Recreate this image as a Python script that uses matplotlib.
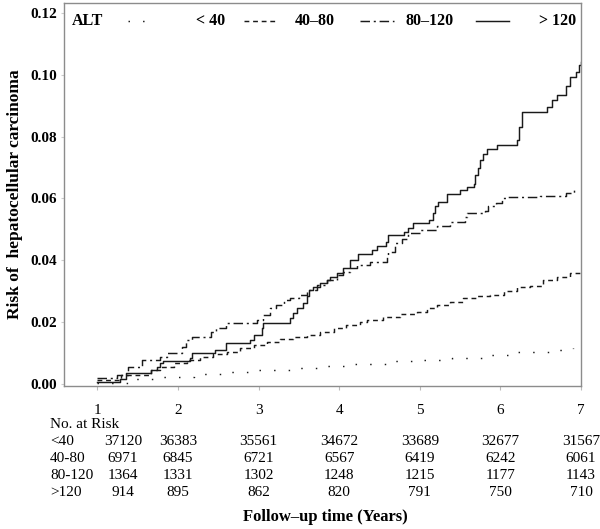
import numpy as np
import matplotlib.pyplot as plt
import matplotlib.transforms as mtransforms

plt.rcParams['font.family'] = ['Liberation Serif', 'DejaVu Serif']

# cumulative risk of HCC by ALT group (step curves)
t_lt40 = [1.00, 1.40, 1.80, 2.20, 2.60, 3.00, 3.40, 3.80, 4.20, 4.60, 5.00, 5.40, 5.80, 6.20, 6.60, 6.90]
r_lt40 = [0.0004, 0.0017, 0.0024, 0.0032, 0.0040, 0.0045, 0.0053, 0.0058, 0.0065, 0.0073, 0.0079, 0.0085,
          0.0094, 0.0104, 0.0110, 0.0115]

t_40_80 = [1.00, 1.30, 1.66, 1.78, 1.95, 2.11, 2.28, 2.44, 2.61, 2.77, 2.94, 3.10, 3.27, 3.43, 3.60, 3.76,
           3.93, 4.09, 4.26, 4.34, 4.55, 4.76, 4.96, 5.09, 5.21, 5.38, 5.54, 5.71, 5.87, 6.04, 6.20, 6.37,
           6.53, 6.70, 6.86, 7.00]
r_40_80 = [0.0013, 0.0029, 0.0045, 0.0056, 0.0067, 0.0078, 0.0088, 0.0096, 0.0105, 0.0115, 0.0126, 0.0137,
           0.0144, 0.0153, 0.0159, 0.0169, 0.0180, 0.0191, 0.0202, 0.0207, 0.0218, 0.0227, 0.0234, 0.0245,
           0.0256, 0.0266, 0.0277, 0.0283, 0.0288, 0.0302, 0.0315, 0.0317, 0.0337, 0.0347, 0.0358, 0.0363]

t_80_120 = [1.00, 1.25, 1.38, 1.55, 1.78, 1.86, 2.05, 2.10, 2.17, 2.41, 2.47, 2.60, 2.98, 3.06, 3.14, 3.22,
            3.31, 3.39, 3.50, 3.60, 3.72, 3.85, 3.97, 4.05, 4.14, 4.22, 4.38, 4.59, 4.61, 4.69, 4.78, 4.86,
            5.00, 5.21, 5.38, 5.56, 5.58, 5.81, 5.85, 5.95, 6.02, 6.08, 6.49, 6.82, 6.91, 6.93]
r_80_120 = [0.0018, 0.0030, 0.0056, 0.0078, 0.0088, 0.0099, 0.0120, 0.0142, 0.0153, 0.0169, 0.0180, 0.0196,
            0.0207, 0.0223, 0.0245, 0.0256, 0.0272, 0.0277, 0.0288, 0.0304, 0.0320, 0.0337, 0.0353, 0.0363,
            0.0374, 0.0385, 0.0396, 0.0412, 0.0428, 0.0455, 0.0470, 0.0488, 0.0498, 0.0511, 0.0523, 0.0541,
            0.0552, 0.0558, 0.0574, 0.0584, 0.0601, 0.0606, 0.0609, 0.0617, 0.0630, 0.0630]

t_gt120 = [1.00, 1.28, 1.35, 1.66, 1.74, 1.78, 1.82, 2.15, 2.17, 2.46, 2.60, 2.90, 2.94, 3.04, 3.06, 3.39,
           3.43, 3.48, 3.55, 3.60, 3.62, 3.68, 3.76, 3.85, 3.89, 3.97, 4.05, 4.14, 4.24, 4.41, 4.47, 4.58,
           4.61, 4.80, 4.86, 4.92, 5.11, 5.17, 5.19, 5.23, 5.34, 5.50, 5.58, 5.67, 5.69, 5.72, 5.75, 5.79,
           5.83, 5.96, 6.20, 6.23, 6.27, 6.58, 6.64, 6.70, 6.82, 6.86, 6.94, 6.98, 7.00]
r_gt120 = [0.0008, 0.0016, 0.0035, 0.0045, 0.0056, 0.0067, 0.0074, 0.0085, 0.0099, 0.0110, 0.0132, 0.0142,
           0.0159, 0.0180, 0.0196, 0.0213, 0.0229, 0.0245, 0.0262, 0.0283, 0.0304, 0.0313, 0.0326, 0.0337,
           0.0347, 0.0358, 0.0374, 0.0400, 0.0420, 0.0434, 0.0447, 0.0460, 0.0482, 0.0493, 0.0504, 0.0520,
           0.0531, 0.0552, 0.0574, 0.0590, 0.0615, 0.0626, 0.0638, 0.0647, 0.0676, 0.0700, 0.0725, 0.0745,
           0.0760, 0.0773, 0.0790, 0.0830, 0.0880, 0.0895, 0.0919, 0.0935, 0.0962, 0.0994, 0.1010, 0.1030,
           0.1040]

groups = ['< 40', '40\u201380', '80\u2013120', '> 120']

# numbers at risk
risk_rows = ['<40', '40-80', '80-120', '>120']
n_lt40 = [37120, 36383, 35561, 34672, 33689, 32677, 31567]
n_40_80 = [6971, 6845, 6721, 6567, 6419, 6242, 6061]
n_80_120 = [1364, 1331, 1302, 1248, 1215, 1177, 1143]
n_gt120 = [914, 895, 862, 820, 791, 750, 710]
col_x = [1.32, 2, 3, 4, 5, 6, 7]

styles = [(0, (1, 9)), (0, (3.3, 2.6)), (0, (6.5, 2.6, 1.4, 2.6)), '-']
lc = '#1a1a1a'

fig = plt.figure(figsize=(6, 5.29), dpi=100)
ax = fig.add_axes([64/600, 1-386/529, 517/600, 383/529])

series = [(t_lt40, r_lt40), (t_40_80, r_40_80), (t_80_120, r_80_120), (t_gt120, r_gt120)]
for (t, r), ls in zip(series, styles):
    ax.step(t, r, where='post', color=lc, lw=1.05, linestyle=ls)

ax.set_xlim(0.587, 7.0)
ax.set_ylim(-0.00065, 0.1232)
ax.set_xticks(range(1, 8))
ax.set_yticks(np.arange(0, 0.121, 0.02))
ax.set_yticklabels(['%.2f' % v for v in np.arange(0, 0.121, 0.02)],
                   fontsize=11, fontweight='bold')
ax.tick_params(axis='x', length=3, color='#bbbbbb', pad=10, labelsize=11)
ax.tick_params(axis='y', length=2, color='#cccccc', pad=3)
for sp in ax.spines.values():
    sp.set_color('#8c8c8c')
    sp.set_linewidth(1.0)

# legend row along the top of the box
ax.text(0.0147, 0.953, 'ALT', transform=ax.transAxes, fontsize=11.5, fontweight='bold', va='center')
key_x = [(0.1240, 0.1600), (0.348, 0.411), (0.5725, 0.638), (0.797, 0.860)]
lab_x = [0.256, 0.4468, 0.6605, 0.9188]
for (x0, x1), lx, ls, g in zip(key_x, lab_x, styles, groups):
    ax.plot([x0, x1], [0.953, 0.953], transform=ax.transAxes, color=lc, lw=1.05, linestyle=ls)
    ax.text(lx, 0.953, g, transform=ax.transAxes, fontsize=11.5, fontweight='bold', va='center')

# number at risk table
trans = mtransforms.blended_transform_factory(ax.transData, fig.transFigure)
fig.text(50/600, 1-424/529, 'No. at Risk', fontsize=11, va='center')
row_y = [441.5, 458.5, 475.5, 492.5]
for lab, counts, py in zip(risk_rows, [n_lt40, n_40_80, n_80_120, n_gt120], row_y):
    fig.text(50/600, 1-py/529, lab, fontsize=11, va='center')
    for cx, n in zip(col_x, counts):
        ax.text(cx, 1-py/529, str(n), transform=trans, fontsize=11, ha='center', va='center')

fig.text(325/600, 1-517/529, 'Follow\u2013up time (Years)', fontsize=12, fontweight='bold',
         ha='center', va='center')
fig.text(15/600, 1-194.5/529, 'Risk of  hepatocellular carcinoma', fontsize=12.5, fontweight='bold',
         rotation=90, ha='center', va='center')

fig.savefig('out.png', dpi=100)
